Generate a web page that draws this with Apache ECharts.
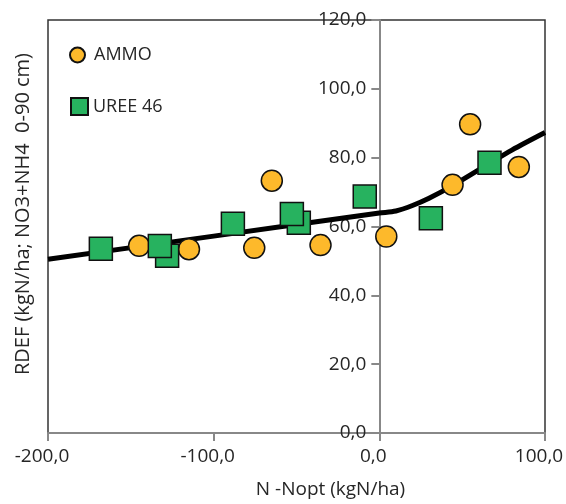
<!DOCTYPE html>
<html>
<head>
<meta charset="utf-8">
<script src="https://cdn.jsdelivr.net/npm/echarts@6/dist/echarts.min.js"></script>
<style>
html,body{margin:0;padding:0;background:#fff;}
#chart{width:566px;height:504px;}
</style>
</head>
<body>
<div id="chart"></div>
<script>
// Data
var ammoX = [-145, -114.9, -75.5, -64.9, -35.5, 4.2, 44.2, 54.8, 84.2];
var ammoY = [54.4, 53.4, 53.8, 73.3, 54.6, 57.1, 72.1, 89.7, 77.3];
var ureeX = [-168.1, -128.1, -132.5, -88.4, -48.6, -52.8, -8.8, 31.1, 66.5];
var ureeY = [53.5, 51.5, 54.3, 60.8, 61.1, 63.6, 68.7, 62.4, 78.5];
var fitX = [-200, -100, 0, 10, 20, 30, 45, 65, 80, 100];
var fitY = [50.5, 57.2, 63.9, 64.5, 66.1, 68.2, 72.1, 77.9, 82.2, 87.3];
var xTicks = [-200, -100, 0, 100];
var yTicks = [0, 20, 40, 60, 80, 100, 120];

function pairs(xs, ys) { return xs.map(function (x, i) { return [x, ys[i]]; }); }
function fmt(v) { return v.toFixed(1).replace('.', ','); }

var FONT = 'Open Sans';
var chart = echarts.init(document.getElementById('chart'));
chart.setOption({
  animation: false,
  backgroundColor: '#fff',
  textStyle: { fontFamily: FONT },
  grid: {
    left: 48, right: 21, top: 20, bottom: 71,
    outerBoundsMode: 'none', containLabel: false,
    show: true, borderColor: '#333', borderWidth: 1.5, backgroundColor: 'transparent'
  },
  legend: [
    {
      data: ['AMMO'], left: 69, top: 46, padding: 0,
      itemWidth: 15, itemHeight: 15,
      textStyle: { fontFamily: FONT, fontSize: 18, color: '#262626', padding: [0, 0, 0, 4] }
    },
    {
      data: ['UREE 46'], left: 70, top: 97, padding: 0,
      itemWidth: 17, itemHeight: 17,
      textStyle: { fontFamily: FONT, fontSize: 18, color: '#262626', padding: [0, 0, 0, 0] }
    }
  ],
  xAxis: {
    type: 'value', min: xTicks[0], max: xTicks[xTicks.length - 1], interval: 100,
    name: 'N -Nopt (kgN/ha)', nameLocation: 'middle', nameGap: 47,
    nameTextStyle: { fontFamily: FONT, fontSize: 19, color: '#262626', padding: [0, 0, 0, 68] },
    axisLine: { onZero: false, lineStyle: { color: '#888', width: 2 } },
    axisTick: { show: true, length: 8, lineStyle: { color: '#888', width: 2 } },
    axisLabel: { fontFamily: FONT, fontSize: 19, color: '#262626', margin: 14, formatter: fmt, padding: [0, 12, 0, 0] },
    splitLine: { show: false }
  },
  yAxis: {
    type: 'value', min: yTicks[0], max: yTicks[yTicks.length - 1], interval: 20,
    axisLine: { show: true, onZero: false, lineStyle: { color: '#888', width: 2 } },
    axisTick: { show: true, length: 8, lineStyle: { color: '#888', width: 2 } },
    axisLabel: { fontFamily: FONT, fontSize: 19, color: '#262626', margin: 13, formatter: fmt },
    splitLine: { show: false }
  },
  graphic: [{
    type: 'text', x: 23, y: 214,
    rotation: Math.PI / 2,
    style: {
      text: 'RDEF (kgN/ha; NO3+NH4  0-90 cm)', fontFamily: FONT, fontSize: 20, fill: '#262626',
      align: 'center', verticalAlign: 'middle'
    }
  }],
  series: [
    {
      name: 'fit', type: 'line', data: pairs(fitX, fitY), smooth: 0.3,
      showSymbol: false, symbol: 'none', z: 1,
      lineStyle: { color: '#000', width: 5 }
    },
    {
      name: 'AMMO', type: 'scatter', data: pairs(ammoX, ammoY), symbol: 'circle', symbolSize: 21, z: 3,
      itemStyle: { color: '#FDB92B', borderColor: '#111', borderWidth: 1.5, opacity: 1 }
    },
    {
      name: 'UREE 46', type: 'scatter', data: pairs(ureeX, ureeY), symbol: 'rect', symbolSize: 23, z: 4,
      itemStyle: { color: '#27B25F', borderColor: '#111', borderWidth: 1.5, opacity: 1 }
    }
  ]
});
// Move the y axis (line, ticks, labels) to x = 0 using the library's own scale
var pxZero = chart.convertToPixel({ xAxisIndex: 0 }, 0);
var pxMin = chart.convertToPixel({ xAxisIndex: 0 }, xTicks[0]);
chart.setOption({ yAxis: { offset: -(pxZero - pxMin) } });
</script>
</body>
</html>
